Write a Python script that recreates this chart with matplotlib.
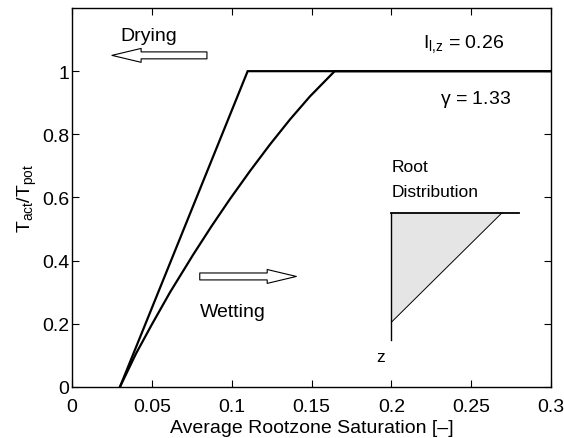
import matplotlib
matplotlib.use('Agg')
import matplotlib.pyplot as plt
from matplotlib.patches import Polygon

plt.rcParams['font.family'] = ['Liberation Sans', 'DejaVu Sans']
plt.rcParams['mathtext.default'] = 'regular'
plt.rcParams['font.size'] = 14

# threshold (linear) curve
lin_x = [0.03, 0.11, 0.3]
lin_y = [0.0, 1.0, 1.0]

# nonlinear curve (gamma = 1.33)
nl_x = [0.030, 0.040, 0.050, 0.0614, 0.0760, 0.0875, 0.0989, 0.1115, 0.1240, 0.1365, 0.149, 0.1645, 0.3]
nl_y = [0.0, 0.105, 0.198, 0.300, 0.420, 0.510, 0.595, 0.684, 0.768, 0.847, 0.920, 1.0, 1.0]

# root distribution sketch
root_top = 0.55
root_x0 = 0.2
root_diag_x = 0.269
root_diag_y = 0.205
root_line_end = 0.28
root_bottom = 0.15

fig = plt.figure(figsize=(5.64, 4.39), dpi=100)
ax = fig.add_axes([0.1277, 0.1162, 0.8493, 0.8633])

ax.plot(lin_x, lin_y, color='k', lw=1.6, solid_joinstyle='miter')
ax.plot(nl_x, nl_y, color='k', lw=1.6, solid_joinstyle='round')

# root distribution triangle
tri = Polygon([(root_x0, root_top), (root_diag_x, root_top), (root_x0, root_diag_y)],
              closed=True, facecolor='#e5e5e5', edgecolor='none')
ax.add_patch(tri)
ax.plot([root_x0, root_diag_x], [root_diag_y, root_top], color='k', lw=0.7)
ax.plot([root_x0, root_x0], [root_bottom, root_top], color='k', lw=1.0)
ax.plot([root_x0, root_line_end], [root_top, root_top], color='k', lw=1.3)
ax.text(root_x0, 0.698, 'Root', ha='left', va='center', fontsize=12.5)
ax.text(root_x0, 0.619, 'Distribution', ha='left', va='center', fontsize=12.5)
ax.text(0.1935, 0.095, 'z', ha='center', va='center', fontsize=12.5)

# hollow arrows
arrow_style = 'simple,head_length=21,head_width=10,tail_width=5'
ax.annotate('', xy=(0.025, 1.05), xytext=(0.0845, 1.05),
            arrowprops=dict(arrowstyle=arrow_style, mutation_scale=1,
                            facecolor='white', edgecolor='k', lw=0.8,
                            shrinkA=0, shrinkB=0))
ax.annotate('', xy=(0.1405, 0.35), xytext=(0.0800, 0.35),
            arrowprops=dict(arrowstyle=arrow_style, mutation_scale=1,
                            facecolor='white', edgecolor='k', lw=0.8,
                            shrinkA=0, shrinkB=0))
ax.text(0.030, 1.112, 'Drying', ha='left', va='center')
ax.text(0.080, 0.24, 'Wetting', ha='left', va='center')

ax.text(0.22, 1.088, 'I$_{l{,}z}$ = 0.26', ha='left', va='center')
ax.text(0.2305, 0.914, r'$\gamma$ = 1.33', ha='left', va='center')

ax.set_xlim(0, 0.3)
ax.set_ylim(0, 1.2)
ax.set_xticks([0, 0.05, 0.1, 0.15, 0.2, 0.25, 0.3])
ax.set_xticklabels(['0', '0.05', '0.1', '0.15', '0.2', '0.25', '0.3'])
ax.set_yticks([0, 0.2, 0.4, 0.6, 0.8, 1.0])
ax.set_yticklabels(['0', '0.2', '0.4', '0.6', '0.8', '1'])
ax.tick_params(direction='in', top=True, right=True, length=5, width=0.8, pad=2)
ax.tick_params(axis='x', pad=8)
for sp in ax.spines.values():
    sp.set_linewidth(1.0)

ax.set_xlabel('Average Rootzone Saturation [–]', labelpad=3)
ax.set_ylabel('T$_{act}$/T$_{pot}$', labelpad=2)

fig.savefig('out.png', dpi=100)
